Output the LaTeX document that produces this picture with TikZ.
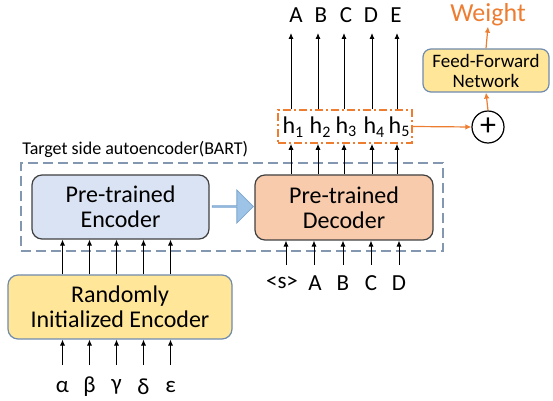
\documentclass[tikz,border=0pt]{standalone}
\usepackage{fontspec}
\setmainfont{Carlito}
\usepackage{xcolor}
\usepackage{tikz}
\usetikzlibrary{shapes, arrows.meta, positioning, calc}
\newlength{\Unit}
\setlength\Unit{0.5pt}
\definecolor{encblue}{HTML}{DAE3F3}
\definecolor{decorange}{HTML}{F8CBAD}
\definecolor{rndyellow}{HTML}{FFE699}
\definecolor{arrowblue}{HTML}{9DC3E6}
\definecolor{arrowedge}{HTML}{7FA6CF}
\definecolor{framegray}{HTML}{8497B0}
\definecolor{edgeblue}{HTML}{6F8BAE}
\definecolor{weightorange}{HTML}{ED7D31}
\newcommand{\hsub}[1]{h\raisebox{-0.3ex}{\footnotesize #1}}

\begin{document}
\begin{tikzpicture}[
    x = \Unit, y = -\Unit, > = {Latex[length=3pt, width=2.6pt]},
    block/.style = {
      rectangle, rounded corners = 5pt, draw = black!75, line width = 0.6pt,
      align = center, inner sep = 0pt, font = \fontsize{12}{12.5}\selectfont
    },
    encoder/.style = {
      block, fill = encblue, minimum width = 177\Unit, minimum height = 64\Unit
    },
    decoder/.style = {
      block, fill = decorange, minimum width = 178\Unit, minimum height = 65\Unit
    },
    randenc/.style = {
      block, draw = edgeblue, fill = rndyellow,
      minimum width = 224\Unit, minimum height = 64\Unit
    },
    ffn/.style = {
      block, draw = edgeblue, fill = rndyellow, rounded corners = 4pt,
      minimum width = 126\Unit, minimum height = 43\Unit,
      font = \fontsize{9.5}{10}\selectfont
    },
    bart/.style = {
      rectangle, draw = framegray, line width = 1pt, dash pattern = on 5pt off 2.5pt,
      minimum width = 422\Unit, minimum height = 88\Unit
    },
    hidden/.style = {
      rectangle, draw = weightorange, line width = 0.8pt,
      dash pattern = on 4pt off 1.5pt on 1pt off 1.5pt,
      minimum width = 134\Unit, minimum height = 33\Unit
    },
    bigarrow/.style = {
      single arrow, draw = arrowedge, fill = arrowblue, inner sep = 0pt,
      minimum width = 33\Unit, minimum height = 41\Unit,
      single arrow head extend = 8\Unit
    },
    sum/.style = {
      circle, draw, line width = 0.6pt, inner sep = 0pt, minimum size = 32\Unit,
      font = \fontsize{16}{16}\selectfont
    },
    token/.style = {
      inner sep = 0pt, font = \fontsize{11.5}{11.5}\selectfont
    },
    path/.style = {
      ->, line width = 0.5pt
    },
    weightpath/.style = {
      ->, line width = 0.6pt, draw = weightorange, > = {Latex[length=3pt, width=2.8pt]}
    },
    ]
    \useasboundingbox (0,0) rectangle (553,401);

    % draw boxes
    \node  [randenc]  (rnd)  at (120,307)  {Randomly\\Initialized Encoder};
    \node  [bart]  (frame)  at (232,207)  {};
    \node  [anchor = south west, inner sep = 0pt, font = \fontsize{9}{9}\selectfont]
      (framelabel)  at (22,158)  {Target side autoencoder(BART)};
    \node  [encoder]  (enc)  at (120.5,207)  {Pre-trained\\Encoder};
    \node  [decoder]  (dec)  at (344,207.5)  {Pre-trained\\Decoder};
    \node  [bigarrow]  (flow)  at (232.5,206.5)  {};
    \node  [hidden]  (hbox)  at (345,126.5)  {};
    \node  [sum]  (plus)  at (488,127)  {+};
    \node  [ffn]  (ffn)  at (486,70.5)  {Feed-Forward\\Network};
    \node  [text = weightorange, inner sep = 0pt, font = \fontsize{13}{13}\selectfont]
      (weight)  at (488,15)  {Weight};

    % encoder side inputs
    \foreach \i/\g in {1/α, 2/β, 3/γ, 4/δ, 5/ε}
    \node  [token]  (g\i)  at (35.5+27*\i,387)  {\g};

    \foreach \i in {1, ..., 5}
    \draw  [path]  (g\i |- 0,365)  -- (g\i |- rnd.south);
    \foreach \i in {1, ..., 5}
    \draw  [path]  (g\i |- rnd.north)  -- (g\i |- enc.south);

    % decoder side inputs
    \foreach \i/\t/\x in {1/{\textless s\textgreater}/282, 2/A/315, 3/B/343, 4/C/371, 5/D/399}
    \node  [token]  (din\i)  at (\x,283)  {\t};
    \foreach \i/\x in {1/286, 2/314, 3/343, 4/371, 5/399}
    \draw  [path]  (\x,265)  -- (\x,0 |- dec.south);

    % hidden states and outputs
    \foreach \i/\x in {1/291, 2/318, 3/344, 4/372, 5/397}
    \node  [token, font = \fontsize{12}{12}\selectfont]  (h\i)  at (\x+2,127)  {\hsub{\i}};
    \foreach \i/\t/\x in {1/A/296, 2/B/321, 3/C/346, 4/D/371, 5/E/396}
    \node  [token]  (out\i)  at (\x,15)  {\t};
    \foreach \i/\x in {1/291, 2/318, 3/344, 4/372, 5/397}
    \draw  [path]  (\x,0 |- dec.north)  -- (\x,0 |- hbox.south);
    \foreach \i/\x in {1/291, 2/318, 3/344, 4/372, 5/397}
    \draw  [path]  (\x,0 |- hbox.north)  -- (\x,33);

    % weight branch
    \draw  [weightpath]  (hbox.east)  -- (plus.west);
    \draw  [weightpath]  (plus.north)  -- (ffn.south);
    \draw  [weightpath]  (ffn.north)  -- (weight.south);

\end{tikzpicture}
\end{document}
